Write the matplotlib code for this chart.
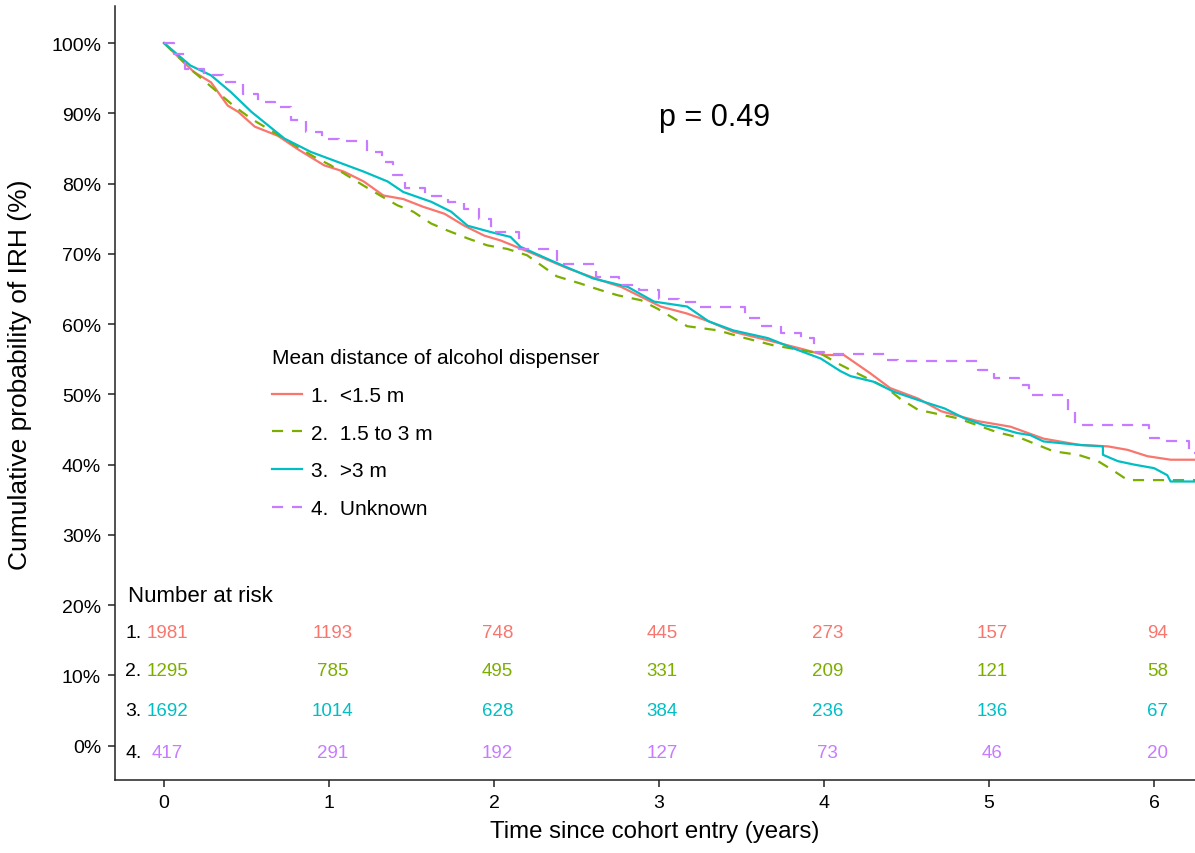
import numpy as np
import matplotlib
matplotlib.use("Agg")
import matplotlib.pyplot as plt

plt.rcParams['font.family'] = ['Liberation Sans', 'DejaVu Sans']

# group labels / colours (ggplot hue palette)
groups = ["1.  <1.5 m", "2.  1.5 to 3 m", "3.  >3 m", "4.  Unknown"]
colors = ["#F8766D", "#7CAE00", "#00BFC4", "#C77CFF"]

# curve knots: time (years), cumulative probability (%)
t_lt15 = [0, 0.18, 0.285, 0.386, 0.45, 0.55, 0.69, 0.81, 0.97, 1.09, 1.21, 1.33, 1.45, 1.57,
          1.70, 1.82, 1.94, 2.04, 2.24, 2.45, 2.65, 2.77, 3.01, 3.17, 3.30, 3.45, 3.66, 3.86,
          4.00, 4.12, 4.28, 4.40, 4.57, 4.71, 4.93, 5.13, 5.33, 5.55, 5.72, 5.84, 5.96, 6.10, 6.25]
p_lt15 = [100, 95.9, 94.4, 91.1, 90.2, 88.1, 86.8, 84.9, 82.6, 81.7, 80.3, 78.3, 77.8, 76.7,
          75.7, 74.0, 72.6, 71.9, 70.0, 67.9, 66.2, 65.3, 62.5, 61.5, 60.4, 58.9, 57.7, 56.5,
          55.6, 55.6, 53.0, 50.9, 49.4, 47.6, 46.2, 45.4, 43.7, 42.8, 42.6, 42.1, 41.2, 40.7, 40.7]

t_15to3 = [0, 0.18, 0.325, 0.42, 0.53, 0.63, 0.81, 0.91, 1.01, 1.21, 1.31, 1.415, 1.51, 1.62,
           1.72, 1.84, 1.96, 2.08, 2.20, 2.38, 2.52, 2.65, 2.75, 2.89, 2.99, 3.17, 3.36, 3.49,
           3.69, 3.86, 3.98, 4.10, 4.26, 4.38, 4.46, 4.57, 4.69, 4.81, 5.05, 5.19, 5.39, 5.54,
           5.66, 5.75, 5.84, 6.25]
p_15to3 = [100, 95.9, 93.0, 91.1, 89.2, 87.8, 85.2, 83.8, 82.6, 79.7, 78.3, 76.9, 76.0, 74.3,
           73.3, 72.2, 71.2, 70.7, 69.8, 66.8, 65.8, 64.8, 64.1, 63.4, 62.2, 59.7, 59.1, 58.2,
           57.0, 56.3, 55.8, 54.2, 52.3, 50.9, 49.4, 47.8, 47.2, 46.6, 44.6, 43.8, 41.9, 41.4,
           40.5, 39.2, 37.8, 37.8]

t_gt3 = [0, 0.16, 0.285, 0.406, 0.53, 0.63, 0.73, 0.89, 1.05, 1.21, 1.355, 1.45, 1.62, 1.74,
         1.84, 1.98, 2.10, 2.16, 2.36, 2.60, 2.81, 2.97, 3.17, 3.30, 3.45, 3.66, 3.82, 3.98,
         4.10, 4.16, 4.30, 4.42, 4.57, 4.73, 4.85, 4.97, 5.05, 5.17, 5.25, 5.33, 5.55, 5.69,
         5.69, 5.78, 5.88, 6.00, 6.08, 6.10, 6.25]
p_gt3 = [100, 96.8, 95.4, 93.0, 90.2, 88.3, 86.4, 84.5, 83.1, 81.7, 80.3, 78.8, 77.4, 76.0,
         74.0, 73.1, 72.4, 71.0, 68.9, 66.5, 65.3, 63.2, 62.5, 60.4, 59.1, 58.0, 56.5, 55.1,
         53.3, 52.6, 51.8, 50.4, 49.2, 48.0, 46.6, 45.6, 45.3, 44.5, 44.2, 43.3, 42.8, 42.6,
         41.4, 40.5, 40.0, 39.5, 38.5, 37.6, 37.6]

# "Unknown" group: step start times and level after each step
t_unk = [0, 0.06, 0.13, 0.24, 0.36, 0.48, 0.57, 0.67, 0.77, 0.86, 0.96, 1.06, 1.23, 1.32, 1.39,
         1.46, 1.58, 1.72, 1.82, 1.91, 1.98, 2.15, 2.38, 2.62, 2.76, 2.88, 3.00, 3.12, 3.25,
         3.52, 3.62, 3.74, 3.86, 3.94, 4.00, 4.37, 4.45, 4.93, 5.03, 5.18, 5.24, 5.48, 5.52,
         5.97, 6.03, 6.21, 6.25]
p_unk = [100, 98.5, 96.3, 95.4, 94.4, 92.8, 91.6, 90.9, 89.0, 87.4, 86.4, 86.1, 84.5, 83.1, 81.2,
         79.3, 78.3, 77.4, 76.4, 75.0, 73.1, 70.7, 68.6, 66.7, 65.5, 64.8, 63.6, 63.2, 62.5,
         60.8, 59.8, 58.7, 58.0, 56.1, 55.7, 54.9, 54.7, 53.5, 52.4, 51.4, 49.9, 47.6, 45.6,
         43.8, 43.4, 41.6, 41.6]

# number at risk table
risk_times = [0, 1, 2, 3, 4, 5, 6]
risk_lt15 = [1981, 1193, 748, 445, 273, 157, 94]
risk_15to3 = [1295, 785, 495, 331, 209, 121, 58]
risk_gt3 = [1692, 1014, 628, 384, 236, 136, 67]
risk_unk = [417, 291, 192, 127, 73, 46, 20]

p_text = "p = 0.49"

fig = plt.figure(figsize=(11.95, 8.54), dpi=100)
ax = fig.add_axes([115 / 1195, 73 / 854, 1080 / 1195, 774 / 854])

lw = 1.6
ax.plot(t_lt15, p_lt15, color=colors[0], lw=lw, label=groups[0])
ax.plot(t_15to3, p_15to3, color=colors[1], lw=lw, ls=(0, (5, 4)), label=groups[1])
ax.plot(t_gt3, p_gt3, color=colors[2], lw=lw, label=groups[2])
ax.plot(t_unk, p_unk, color=colors[3], lw=lw, ls=(0, (5, 4)), drawstyle='steps-post',
        label=groups[3])

ax.set_xlim(-0.297, 6.248)
ax.set_ylim(-4.88, 105.27)
ax.set_xticks(range(7))
ax.set_yticks(range(0, 101, 10))
ax.set_yticklabels([f"{v}%" for v in range(0, 101, 10)])

for s in ["top", "right"]:
    ax.spines[s].set_visible(False)
for s in ["left", "bottom"]:
    ax.spines[s].set_linewidth(1.1)
    ax.spines[s].set_color("#222222")
ax.tick_params(length=5, width=1.1, color="#222222", labelsize=14, pad=5, labelcolor="black")

ax.set_xlabel("Time since cohort entry (years)", fontsize=17.3)
ax.set_ylabel("Cumulative probability of IRH (%)", fontsize=19)
ax.xaxis.set_label_coords(0.5, -0.052)
ax.yaxis.set_label_coords(-0.077, 0.525)

ax.text(3.336, 89.5, p_text, fontsize=22, ha="center", va="center")

leg = ax.legend(title="Mean distance of alcohol dispenser", loc="upper left",
                bbox_to_anchor=(0.145, 0.558), frameon=False, fontsize=15,
                title_fontsize=15, handlelength=1.45, handletextpad=0.45,
                labelspacing=0.9, alignment="left", borderpad=0, borderaxespad=0)

# number at risk
ax.text(-0.218, 21.4, "Number at risk", fontsize=16, ha="left", va="center")
row_y = [16.13, 10.67, 4.98, -0.94]
risk_rows = [risk_lt15, risk_15to3, risk_gt3, risk_unk]
for i, (yy, row) in enumerate(zip(row_y, risk_rows)):
    ax.text(-0.236, yy, f"{i + 1}.", fontsize=14, ha="left", va="center")
    for tt, n in zip(risk_times, row):
        ax.text(tt + 0.02, yy, str(n), fontsize=13.5, color=colors[i], ha="center", va="center")

fig.savefig("out.png", dpi=100)
